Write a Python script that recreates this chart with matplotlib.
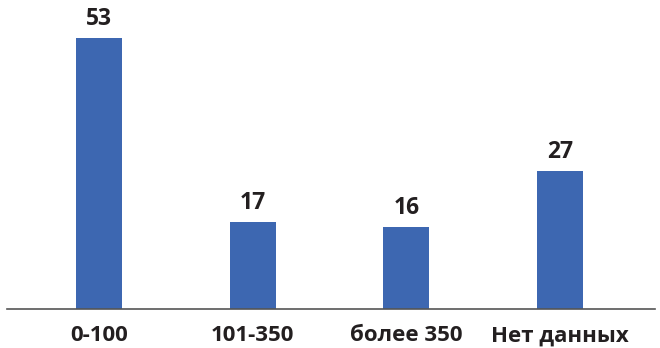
import matplotlib.pyplot as plt

categories = ['0-100', '101-350', 'более 350', 'Нет данных']
values = [53, 17, 16, 27]

BAR_COLOR = '#3d67b1'
TEXT_COLOR = '#231f20'

plt.rcParams['font.family'] = ['Open Sans', 'DejaVu Sans']

fig = plt.figure(figsize=(6.6, 3.48), dpi=100)
ax = fig.add_axes([7 / 660, 1 - 308.5 / 348, 648 / 660, 308.5 / 348])

x = range(len(categories))
bars = ax.bar(x, values, width=0.30, color=BAR_COLOR, zorder=2)

for b, v in zip(bars, values):
    ax.annotate(str(v), (b.get_x() + b.get_width() / 2, b.get_height()),
                xytext=(0, 7), textcoords='offset pixels',
                ha='center', va='bottom', fontsize=16.5, fontweight='bold',
                color=TEXT_COLOR)

ax.set_xlim(-0.599, 3.618)
ax.set_ylim(0, 60.5)

ax.set_xticks(list(x))
ax.set_xticklabels(categories, fontsize=16, fontweight='bold', color=TEXT_COLOR)
ax.tick_params(axis='x', length=0, pad=12)
ax.set_yticks([])

for side in ['top', 'right', 'left']:
    ax.spines[side].set_visible(False)
ax.spines['bottom'].set_color('#555555')
ax.spines['bottom'].set_linewidth(1.2)

fig.savefig('out.png', dpi=100)
